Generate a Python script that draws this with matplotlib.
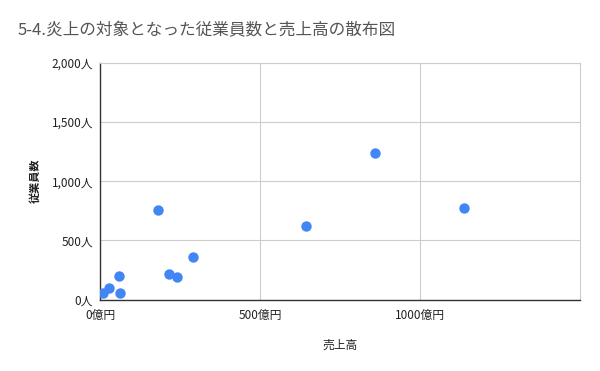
import matplotlib
matplotlib.use("Agg")
import matplotlib.pyplot as plt
from matplotlib.ticker import FuncFormatter

plt.rcParams['font.family'] = ['Noto Sans CJK JP', 'DejaVu Sans']

TITLE = "5-4.炎上の対象となった従業員数と売上高の散布図"
X_LABEL = "売上高"
Y_LABEL = "従業員数"

# 売上高 (億円), 従業員数 (人)
sales = [8, 29, 60, 63, 217, 240, 290, 181, 644, 859, 1138]
employees = [58, 97, 199, 58, 219, 188, 358, 759, 623, 1242, 775]

x_ticks = [0, 500, 1000]
y_ticks = [0, 500, 1000, 1500, 2000]

fig = plt.figure(figsize=(6, 3.71), dpi=100)
ax = fig.add_axes([100 / 600, 71.5 / 371, 480 / 600, 236.5 / 371])

ax.scatter(sales, employees, s=56, color="#4285F4", zorder=3, linewidths=0)

ax.set_xlim(0, 1500)
ax.set_ylim(0, 2000)
ax.set_xticks(x_ticks)
ax.set_yticks(y_ticks)
ax.xaxis.set_major_formatter(FuncFormatter(lambda v, p: f"{int(v)}億円"))
ax.yaxis.set_major_formatter(FuncFormatter(lambda v, p: f"{int(v):,}人"))
ax.tick_params(length=0, labelsize=8.5, colors="#222222")
ax.tick_params(axis="x", pad=7)
ax.tick_params(axis="y", pad=5)

ax.grid(True, color="#cccccc", linewidth=0.8)
ax.set_axisbelow(True)
for side in ["top", "right"]:
    ax.spines[side].set_color("#cccccc")
    ax.spines[side].set_linewidth(0.8)
for side in ["left", "bottom"]:
    ax.spines[side].set_color("#333333")
    ax.spines[side].set_linewidth(1.0)

fig.text(18 / 600, 1 - 31 / 371, TITLE, fontsize=12, color="#555555", va="center", ha="left")
fig.text(340 / 600, 1 - 345 / 371, X_LABEL, fontsize=8.5, color="#222222", ha="center", va="center")
fig.text(35 / 600, 1 - 181 / 371, Y_LABEL, fontsize=8, color="#222222", ha="center", va="center",
         rotation=90, fontweight="bold")

fig.savefig("out.png", dpi=100)
